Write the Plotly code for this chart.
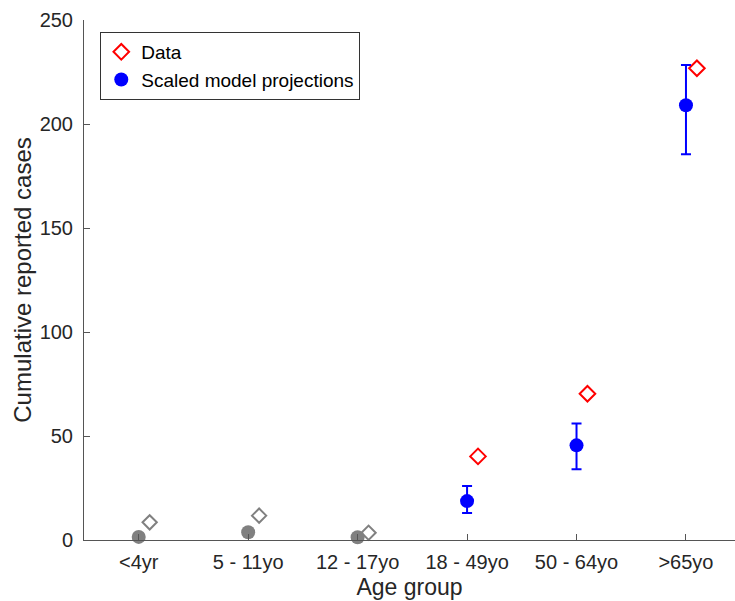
import plotly.graph_objects as go

groups = ['<4yr', '5 - 11yo', '12 - 17yo', '18 - 49yo', '50 - 64yo', '>65yo']
data_cases = [8.5, 11.7, 3.5, 40.2, 70.3, 226.8]
model_cases = [1.5, 3.7, 1.3, 18.7, 45.5, 209.0]
model_upper = [None, None, None, 26.0, 56.0, 228.4]
model_lower = [None, None, None, 13.0, 34.0, 185.5]
ytick_vals = [0, 50, 100, 150, 200, 250]

xpos = list(range(1, len(groups) + 1))
offset = 0.1
gray_idx = [0, 1, 2]
color_idx = [3, 4, 5]
GRAY = '#808080'
FONT = 'Liberation Sans, Arial, Helvetica, sans-serif'

fig = go.Figure()

# gray (not in legend)
fig.add_trace(go.Scatter(
    x=[xpos[i] for i in gray_idx], y=[model_cases[i] for i in gray_idx],
    mode='markers', marker=dict(symbol='circle', size=14, color=GRAY),
    showlegend=False, cliponaxis=False))
fig.add_trace(go.Scatter(
    x=[xpos[i] + offset for i in gray_idx], y=[data_cases[i] for i in gray_idx],
    mode='markers', marker=dict(symbol='diamond-open', size=11, color=GRAY,
                                line=dict(width=2, color=GRAY)),
    showlegend=False, cliponaxis=False))

# data (red)
fig.add_trace(go.Scatter(
    x=[xpos[i] + offset for i in color_idx], y=[data_cases[i] for i in color_idx],
    mode='markers', name='Data',
    marker=dict(symbol='diamond-open', size=12, color='#ff0000',
                line=dict(width=2, color='#ff0000')),
    cliponaxis=False))

# model (blue) with error bars
fig.add_trace(go.Scatter(
    x=[xpos[i] for i in color_idx], y=[model_cases[i] for i in color_idx],
    mode='markers', name='Scaled model projections',
    marker=dict(symbol='circle', size=14, color='#0000ff'),
    error_y=dict(type='data', symmetric=False,
                 array=[model_upper[i] - model_cases[i] for i in color_idx],
                 arrayminus=[model_cases[i] - model_lower[i] for i in color_idx],
                 color='#0000ff', thickness=2, width=5),
    cliponaxis=False))

fig.update_layout(
    width=735, height=601,
    margin=dict(l=84, r=0, t=20, b=61),
    plot_bgcolor='white', paper_bgcolor='white',
    font=dict(family=FONT, size=20, color='#262626'),
    legend=dict(x=0.025, y=0.977, xanchor='left', yanchor='top',
                bordercolor='#333333', borderwidth=1, bgcolor='white',
                font=dict(size=19, color='#000000'),
                tracegroupgap=0, itemsizing='trace'),
    xaxis=dict(range=[0.5, 6.448], tickmode='array', tickvals=xpos, ticktext=groups,
               showgrid=False, zeroline=False, showline=True, linecolor='#555555',
               linewidth=1, ticks='inside', ticklen=6, tickcolor='#555555',
               ticklabelstandoff=4,
               title=dict(text='Age group', font=dict(size=23), standoff=6)),
    yaxis=dict(range=[0, 250], tickmode='array', tickvals=ytick_vals,
               showgrid=False, zeroline=False, showline=True, linecolor='#555555',
               linewidth=1, ticks='inside', ticklen=6, tickcolor='#555555',
               ticklabelstandoff=6,
               title=dict(text='Cumulative reported cases', font=dict(size=24), standoff=1)),
)

fig.write_html('out.html')
